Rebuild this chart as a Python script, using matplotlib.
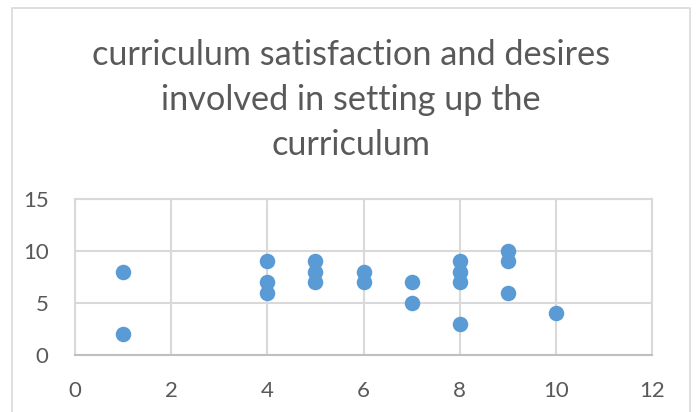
import matplotlib
matplotlib.use("Agg")
import matplotlib.pyplot as plt
from matplotlib.patches import Rectangle

title = "curriculum satisfaction and desires\ninvolved in setting up the\ncurriculum"
x_vals = [1, 1, 4, 4, 4, 5, 5, 5, 6, 6, 7, 7, 8, 8, 8, 8, 9, 9, 9, 10]
y_vals = [8, 2, 9, 7, 6, 9, 8, 7, 8, 7, 7, 5, 9, 8, 7, 3, 10, 9, 6, 4]
x_ticks = [0, 2, 4, 6, 8, 10, 12]
y_ticks = [0, 5, 10, 15]

plt.rcParams['font.family'] = ['Lato', 'DejaVu Sans']
W, H = 698, 412
fig = plt.figure(figsize=(W / 100, H / 100), dpi=100)
fig.patch.set_facecolor('white')

# outer chart frame (cropped at bottom)
fig.patches.append(Rectangle((12 / W, -0.1), (690 - 12) / W, (H - 8) / H + 0.1,
                             transform=fig.transFigure, fill=False,
                             edgecolor='#D9D9D9', linewidth=1.2))

left, right, top, bottom = 75, 652, 199, 355
ax = fig.add_axes([left / W, 1 - bottom / H, (right - left) / W, (bottom - top) / H])
ax.scatter(x_vals, y_vals, s=125, color='#5B9BD5', zorder=3, linewidths=0)
ax.set_xlim(0, 12)
ax.set_ylim(0, 15)
ax.set_xticks(x_ticks)
ax.set_yticks(y_ticks)
ax.grid(True, color='#D9D9D9', linewidth=1.5)
for s in ax.spines.values():
    s.set_color('#D9D9D9')
    s.set_linewidth(1.5)
ax.spines['bottom'].set_color('#BFBFBF')
ax.tick_params(length=0, colors='#595959', labelsize=16, pad=0)
ax.tick_params(axis='x', pad=19)
ax.tick_params(axis='y', pad=19)

fig.text(351 / W, 1 - 100 / H, title, ha='center', va='center', fontsize=24.7,
         color='#595959', linespacing=1.5)

fig.savefig("out.png", dpi=100)
